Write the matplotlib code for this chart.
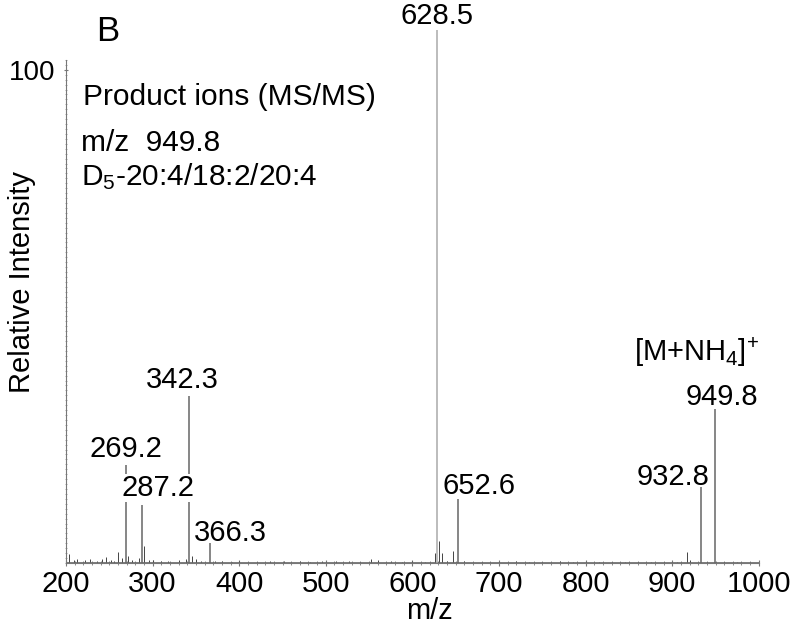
import numpy as np
import matplotlib
matplotlib.use("Agg")
import matplotlib.pyplot as plt
from matplotlib.ticker import MultipleLocator, FixedLocator

plt.rcParams["font.family"] = ["Liberation Sans", "DejaVu Sans"]
plt.rcParams["mathtext.fontset"] = "custom"
plt.rcParams["mathtext.rm"] = "Liberation Sans"
plt.rcParams["mathtext.it"] = "Liberation Sans:italic"

# labelled peaks (m/z, relative intensity)
peak_mz = [269.2, 287.2, 342.3, 366.3, 628.5, 652.6, 932.8, 949.8]
peak_int = [19.9, 11.8, 33.9, 4.1, 108.0, 13.0, 15.4, 31.2]
peak_labels = ["269.2", "287.2", "342.3", "366.3", "628.5", "652.6", "932.8", "949.8"]
# label offsets from peak top, in points
label_dx = [0, 12, -5, 15, 0, 15, -20, 5]
label_dy = [1, 2, 1, -3, 0, -1, -3, -1]

# small unlabelled peaks / noise
noise_mz = [204, 209, 213, 222, 228, 236, 241, 246, 252, 256, 260, 265, 272, 276,
            284, 290, 296, 300, 310, 318, 330, 338, 345, 350, 356, 372, 380, 392,
            400, 420, 436, 452, 470, 482, 496, 512, 527, 540, 552, 560, 575, 588,
            600, 614, 626, 631, 634, 640, 647, 660, 680, 700, 720, 735, 750, 770,
            785, 800, 815, 830, 845, 860, 875, 890, 905, 917, 920, 940, 960, 975]
noise_int = [1.8, 0.6, 0.8, 0.6, 0.9, 0.5, 0.8, 1.2, 0.7, 0.5, 2.2, 1.0, 1.5, 0.6,
             1.0, 3.5, 0.6, 0.6, 0.4, 0.5, 0.6, 0.8, 1.5, 0.8, 0.5, 0.5, 0.4, 0.3,
             0.4, 0.3, 0.4, 0.4, 0.5, 0.3, 0.4, 0.5, 0.4, 0.3, 0.9, 0.6, 0.4, 0.3,
             0.4, 0.3, 2.0, 4.5, 2.0, 0.5, 2.5, 0.4, 0.3, 0.3, 0.4, 0.3, 0.3, 0.4,
             0.3, 0.3, 0.3, 0.3, 0.3, 0.3, 0.3, 0.3, 0.3, 2.3, 0.6, 0.3, 0.3, 0.3]

fig = plt.figure(figsize=(8, 6.34), dpi=100)
ax = fig.add_axes([0.0825, 0.112, 0.866, 0.7934])

ax.vlines(noise_mz, 0, noise_int, color="#444444", lw=0.7)
ax.axhline(0.25, color="#666666", lw=0.6)
for mz, h in zip(peak_mz, peak_int):
    col = "#aaaaaa" if mz == 628.5 else "#666666"
    ax.vlines(mz, 0, h, color=col, lw=1.1, clip_on=False)

for i, (mz, h, lab) in enumerate(zip(peak_mz, peak_int, peak_labels)):
    bbox = dict(facecolor="white", edgecolor="none", pad=0) if lab == "287.2" else None
    ax.annotate(lab, (mz, h), xytext=(label_dx[i], label_dy[i]), textcoords="offset points",
                ha="center", va="bottom", fontsize=21, bbox=bbox, zorder=5,
                annotation_clip=False)

ax.annotate(r"[M+NH$_4]^{\!+}$", (949.8, 31.2), xytext=(-13, 29), textcoords="offset points",
            ha="center", va="bottom", fontsize=21, annotation_clip=False)

ax.set_xlim(200, 1000)
ax.set_ylim(0, 102)
ax.spines["top"].set_visible(False)
ax.spines["right"].set_visible(False)
for s in ["left", "bottom"]:
    ax.spines[s].set_color("#777777")
    ax.spines[s].set_linewidth(0.8)

ax.xaxis.set_major_locator(MultipleLocator(100))
ax.xaxis.set_minor_locator(MultipleLocator(10))
ax.yaxis.set_major_locator(FixedLocator([100]))
ax.yaxis.set_minor_locator(MultipleLocator(1))
ax.tick_params(axis="x", which="major", labelsize=21, length=4, direction="inout",
               color="#777777", pad=3)
ax.tick_params(axis="x", which="minor", length=2.5, direction="inout", color="#777777")
ax.tick_params(axis="y", which="major", labelsize=20, length=3, direction="inout",
               color="#777777", pad=6)
ax.tick_params(axis="y", which="minor", length=2, direction="inout", color="#999999")

ax.set_xlabel("m/z", fontsize=21)
ax.xaxis.set_label_coords(0.525, -0.068)
ax.set_ylabel("Relative Intensity", fontsize=21)
ax.yaxis.set_label_coords(-0.043, 0.559)

fig.text(0.134, 0.95, "B", fontsize=25, ha="center", va="center")
ax.text(0.024, 0.926, "Product ions (MS/MS)", transform=ax.transAxes, fontsize=21.5,
        va="center")
ax.text(0.021, 0.835, "m/z  949.8", transform=ax.transAxes, fontsize=21.5, va="center")
ax.text(0.021, 0.768, r"D$_5$-20:4/18:2/20:4", transform=ax.transAxes, fontsize=21.5,
        va="center")

fig.savefig("out.png", dpi=100)
